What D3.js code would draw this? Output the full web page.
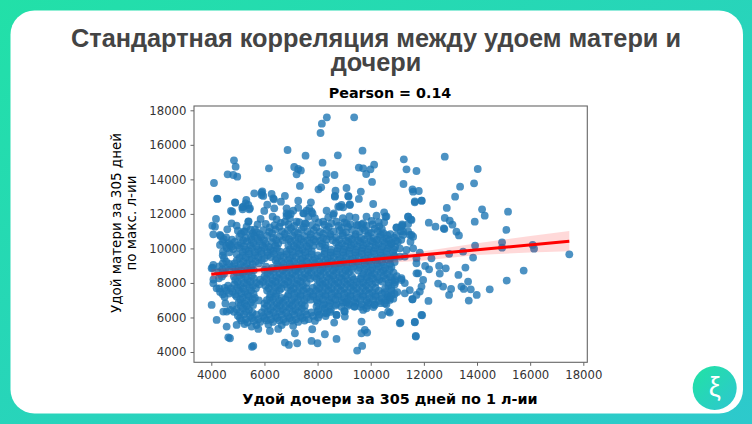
<!DOCTYPE html>
<html lang="ru">
<head>
<meta charset="utf-8">
<script src="https://cdn.jsdelivr.net/npm/d3@7/dist/d3.min.js"></script>
<style>
html,body{margin:0;padding:0;background:#fff}
svg{display:block}
</style>
</head>
<body>
<svg id="slide" width="752" height="424"></svg>
<script>
// Slide texts
const titleLines = ["Стандартная корреляция между удоем матери и", "дочери"];
const plotTitle = "Pearson = 0.14";
const xLabel = "Удой дочери за 305 дней по 1 л-ии";
const yLabelLines = ["Удой матери за 305 дней", "по макс. л-ии"];
const xTicks = [4000, 6000, 8000, 10000, 12000, 14000, 16000, 18000];
const yTicks = [4000, 6000, 8000, 10000, 12000, 14000, 16000, 18000];

// Cows as [daughter yield, mother yield], grouped by part of the cloud
const highMothers = [
 [4101,13790],[4226,12883],[4853,15103],[4916,14736],[4615,14292],[4828,14253],[4978,14157],[6169,14640],
 [6870,15700],[7547,15373],[8186,14968],[8111,16685],[8161,17226],[8349,17592],[9376,17592],[8762,15392],
 [9690,15662],[7121,14717],[7271,14600],[7371,14520],[7210,14290],[8337,14310],[8311,13960],[8637,14253],
 [7334,13620],[8035,13420],[8136,13540],[9552,14680],[9715,14640],[10128,14850],[9990,14580],[9828,14310],
 [10050,13850],[8675,13346],[9088,13500],[9627,13290],[9165,13000],[8650,13040],[7271,12767],[6770,13038],
 [6270,13153],[6332,12900],[5918,13308],[5893,13096],[5617,13192],[12786,15315],[11245,15161],[11346,14582],
 [11721,14485],[11233,13732],[11571,13424],[11809,13327],[11659,12729],[11922,12767],[13363,13578],[13175,12999],
 [13889,13771],[14027,14601],[12862,12343],[14190,12266],[14290,11899],[15167,12130],[13914,11551],[12786,11764],
 [12974,11609],[13075,11378],[12185,11494],[12436,11262],[12749,11165],[13225,10972],[15105,11069],[11408,11841],
 [11508,11687],[11408,11416],[11195,11339],[10970,11223],[11158,11262],[13320,10750],[12770,11120]
];
const upperBand = [
 [4227,12864],[4891,12671],[4740,12169],[4790,12130],[5317,12806],[5166,12381],[5392,12516],[5455,12324],
 [5292,12613],[5893,13231],[5956,13038],[6357,12845],[6620,12710],[6106,12536],[5993,12169],[6369,12324],
 [6307,11841],[6457,11687],[6833,12034],[7084,12188],[7271,12350],[7748,12671],[7459,12034],[7585,12188],
 [7773,12130],[4176,11706],[4039,11320],[4139,11262],[4076,10818],[4327,10780],[4602,11107],[4765,11455],
 [4953,11320],[5392,11551],[5329,11262],[5267,10972],[5856,11706],[5743,11397],[5642,11107],[5054,10683],
 [5517,10490],[5492,10683],[4327,10200],[4703,10200],[8651,12999],[9152,13038],[9553,12864],[9215,12555],
 [8901,12516],[8776,12420],[8613,12034],[8338,12188],[10092,12574],[9841,11841],[10217,11899],[10505,12092],
 [10555,11841],[10505,11513],[9428,11783],[9653,11397],[10969,11204],[11182,11397],[11407,11841],[11533,11648],
 [11658,12671],[11909,12767],[11595,13289],[11407,10990],[11533,10780],[11215,10780],[11130,10990],[10590,11850],
 [9213,12516],[8963,12381],[8838,12420],[7685,12323],[7810,12034],[7484,12034],[6990,12000],[6833,11880],
 [5204,12420],[5429,12266],[5179,12266],[4903,12652],[5404,11571],[6958,11745],[6770,11551],[7209,11551],
 [7647,11841],[7522,11455],[8211,11551],[8587,11937],[8712,11551],[9088,11455],[9464,11358],[9714,11455],
 [6833,12323],[6895,11937],[7900,11750],[8400,11800],[8950,11760],[9200,11850],[10030,11600],[10300,11520]
];
const rightSide = [
 [17473,9660],[15756,8714],[15117,8135],[14478,7633],[13689,6977],[13989,7305],[13764,7633],[13664,8077],
 [13413,7788],[13501,7653],[13024,7653],[12949,7305],[12724,7788],[12536,7962],[13300,8464],[13563,8888],
 [13852,9467],[12824,8849],[12573,8985],[12598,8541],[12285,9428],[12949,9679],[13476,9814],[13927,10162],
 [14942,10355],[14942,10046],[16094,10200],[16145,9988],[12172,6958],[11934,6128],[11659,5742],[11095,5665],
 [11696,4893],[11571,7055],[12197,8791],[12047,8985],[11722,8560],[11972,8174],[11910,7790],[11847,7500],
 [11722,7305],[11470,7590],[11283,7400],[11157,8170],[10907,8170],[10719,7110],[10782,7305],[10719,6283],
 [11596,10008],[11847,9757],[11283,9530],[11095,9530],[10907,9530],[10782,10300],[10970,10780],[11220,10970],
 [11470,10780],[11596,10680],[11496,10390],[11095,10008],[11345,9910],[11721,9428],[11721,9140],[11783,8560],
 [11157,8271],[11282,7990],[11570,7055],[10718,7016],[10530,6823],[10154,6727],[11658,5723],[11909,6148],
 [11119,5704],[11695,4932]
];
const lowerEdge = [
 [4013,6726],[4201,5858],[4577,5472],[4703,4796],[4640,4850],[5580,4352],[5530,4300],[6770,4545],[6920,4410],[7233,4507],
 [7772,4642],[7998,4507],[8274,5028],[8712,4758],[7798,5317],[7146,5086],[6206,5221],[6519,5337],[5768,5337],
 [5517,5472],[4953,5568],[4452,6340],[4702,6437],[4580,6340],[8624,5703],[8712,6147],[9025,6340],[9025,6051],
 [9401,6630],[9715,6437],[9840,6533],[10429,6147],[10654,6340],[9652,5761],[9652,5086],[9778,5279],[9865,5125],
 [9489,4082],[9677,4352],[4076,9042],[4013,8850],[4076,7981],[4201,7691],[8024,5994],[8338,6245],[8713,6148],
 [9002,6380],[9378,6630],[9089,6881]
];
const coreA = [
 [6050,11420],[6380,11350],[6620,11480],[6900,11390],[7120,11300],[7310,11520],[7560,11430],[7790,11350],[8040,11500],[8260,11370],
 [8520,11460],[8790,11320],[9010,11510],[9230,11400],[9520,11350],[9840,11300],[10070,11390],[10320,11280],
 [5000,11030],[5230,10990],[5480,11080],[5700,10940],[5950,11060],[6180,10960],[6420,11100],[6660,10990],[6880,11050],[7140,10940],
 [7390,11090],[7620,10980],[7860,11060],[8090,10950],[8340,11080],[8600,10990],[8830,11040],[9070,10930],[9300,11070],[9570,10980],
 [9780,11040],[10010,10920],[10260,11000],[10480,10890],[10740,10820],
 [4350,10720],[4560,10640],[5300,10610],[5620,10720],[5870,10640],[6100,10720],[6330,10610],[6570,10700],[6800,10630],[7050,10740],
 [7280,10620],[7500,10710],[7740,10640],[7980,10720],[8210,10610],[8470,10700],[8700,10630],[8950,10740],[9180,10620],[9410,10700],
 [9640,10610],[9890,10720],[10120,10590],[10350,10680],[10600,10560],[10880,10620],[11150,10500],
 [4420,10400],[4650,10310],[4880,10380],[5120,10290],[5350,10400],[5590,10310],[5810,10390],[6050,10280],[6280,10370],
 [6520,10290],[6990,10380],[7230,10270],[7470,10360],[7710,10290],[7930,10400],[8170,10270],[8690,10350],[8920,10280],[9150,10390],
 [9370,10270],[9600,10360],[9840,10280],[10070,10390],[10290,10260],[10530,10340],[10770,10250],[11020,10390],
 [4580,10010],[4820,9960],[5060,10030],[5290,9940],[5530,10020],[5760,9950],[6000,10040],[6230,9930],[6470,10010],[6960,9960],
 [7200,10030],[7430,9940],[7660,10010],[8280,10030],[8510,9930],[8760,10010],[8990,9940],[9220,10040],[9460,9930],[9690,10020],
 [9920,9950],[10160,10030],[10400,9940],[10640,10020],[10880,9930]
];
const coreB = [
 [4430,9600],[4950,9670],[5180,9590],[5420,9680],[5650,9610],[5890,9700],[6120,9600],[6360,9680],[6600,9590],
 [6840,9670],[7070,9610],[7310,9700],[7540,9590],[7780,9670],[8010,9600],[8260,9680],[8490,9590],[8730,9670],[8970,9600],
 [9200,9690],[9430,9590],[9670,9680],[9900,9610],[10140,9690],[10380,9590],[10620,9660],[10870,9580],
 [4560,9240],[4960,9310],[5200,9230],[5430,9330],[5670,9240],[5900,9320],[6420,9310],[6650,9230],
 [6890,9320],[7120,9240],[7360,9330],[7590,9230],[7830,9310],[8060,9240],[8300,9320],[8530,9230],[8770,9310],[9000,9240],
 [9240,9330],[9470,9230],[9710,9320],[9940,9240],[10180,9300],[10420,9220],[10660,9310],[10900,9210],
 [4050,8880],[4300,8960],[4540,8870],[4790,8960],[5030,8870],[5270,8950],[5500,8880],[6060,8950],[6290,8870],[6530,8960],
 [6770,8880],[7000,8950],[7240,8870],[7470,8960],[7710,8880],[7950,8960],[8180,8870],[8420,8950],[8650,8880],[8890,8960],
 [9120,8870],[9360,8950],[9590,8880],[9830,8960],[10060,8870],[10300,8950],[10540,8870],[10780,8930],
 [4260,8620],[4480,8530],[4950,8610],[5190,8530],[5420,8620],[6110,8540],[6340,8620],[6580,8530],[6820,8610],[7050,8540],
 [7290,8620],[7530,8530],[7760,8610],[8000,8540],[8230,8620],[8470,8530],[8710,8610],[8940,8540],[9180,8620],[9720,8530],
 [9900,8610],[10140,8530],[10380,8610],[10620,8530],[10860,8600],
 [4080,8200],[4290,8270],[4900,8180],[5130,8260],[5370,8180],[5600,8270],[5840,8190],[6070,8260],[6310,8180],[6540,8270],
 [6780,8190],[7010,8260],[7250,8180],[7480,8270],[7720,8250],[7960,8260],[8190,8180],[8430,8270],[8660,8190],[8900,8260],
 [9130,8180],[9370,8200],[9610,8250],[9840,8180],[10080,8260],[10320,8180],[10560,8240],[10800,8170]
];
const coreC = [
 [4630,7850],[4870,7920],[5100,7840],[5340,7930],[5570,7850],[5810,7920],[6040,7840],[6280,7930],[6510,7850],[6750,7920],
 [6980,7840],[7220,7930],[7450,7850],[7980,7840],[8180,7920],[8410,7840],[8640,7930],[8880,7850],[9110,7920],[9350,7840],
 [9580,7930],[9820,7850],[10060,7920],[10660,7840],[10900,7910],
 [4330,7480],[4560,7560],[4800,7490],[5030,7570],[5270,7490],[5500,7560],[6100,7560],[6330,7490],[6560,7570],[7000,7560],
 [7240,7490],[7470,7570],[7710,7490],[7940,7560],[8180,7490],[8410,7570],[8650,7490],[8880,7560],[9120,7480],[9350,7570],
 [9590,7490],[9820,7560],[10060,7480],[10300,7550],[10530,7470],[10780,7550],[11000,7470],
 [4500,7180],[4950,7220],[5180,7150],[5410,7230],[5640,7140],[6200,7150],[6420,7220],[6650,7140],[6880,7230],[7120,7140],
 [7360,7230],[7590,7140],[7830,7220],[8060,7130],[8300,7230],[8530,7140],[8770,7220],[9000,7130],[9240,7220],[9470,7130],
 [9710,7210],[9950,7120],[10190,7200],[10420,7110],[10650,7180],[10850,7090],
 [4530,6810],[5030,6880],[5260,6800],[5490,6870],[6000,6810],[6240,6880],[6470,6800],[6700,6870],[6940,6790],[7180,6870],
 [7410,6790],[8000,6860],[8240,6780],[8470,6860],[8710,6780],[8950,6860],[9180,6780],[9420,6860],[9660,6770],[9900,6850],
 [10130,6760],[10370,6830],[10590,6760],
 [4950,6480],[5190,6540],[5420,6450],[6000,6530],[6230,6450],[6470,6540],[6700,6460],[6940,6530],[7170,6450],[7410,6530],
 [8030,6450],[8270,6530],[8500,6450],
 [5000,6100],[5230,6180],[5460,6090],[5700,6170],[5950,6090],[6180,6170],[6420,6090],[6650,6170],[6890,6090],[7120,6170],
 [7360,6090],[7590,6170],[7830,6090],[8060,6160],[8300,6080],
 [5130,5820],[5360,5730],[5600,5810],[5840,5740],[6080,5830],[6320,5740],[6560,5820],[6800,5740],[7040,5820],[7270,5740],[7510,5820]
];
const coreUpperFill = [
 [6200,11220],[6560,11260],[7000,11180],[7480,11230],[7950,11210],[8420,11240],[8900,11190],[9150,11250],[9700,11180],[10150,11140],[10420,11120],
 [5120,10850],[5560,10880],[5830,10820],[6290,10870],[6770,10840],[7260,10890],[7740,10820],[8210,10860],[8480,10830],[8950,10880],[9430,10820],[9920,10870],[10370,10800],[10620,10770],
 [4470,10530],[4780,10510],[5200,10470],[5750,10520],[5990,10470],[6440,10480],[6690,10470],[6920,10530],[7160,10490],[7380,10540],[7620,10470],[7860,10510],[8100,10450],[8340,10520],[8570,10480],[8820,10500],[9070,10450],[9290,10520],[9530,10470],[9760,10510],[10000,10450],[10230,10500],[10460,10440],[10700,10480],[10950,10440],
 [4560,10160],[4770,10110],[5000,10170],[5240,10120],[5470,10180],[5700,10110],[5930,10160],[6170,10090],[6410,10160],[6900,10170],[7110,10130],[7350,10190],[7590,10120],[7830,10160],[8080,10120],[8300,10180],[8800,10160],[9040,10110],[9270,10190],[9490,10100],[9720,10180],[9960,10110],[10200,10170],[10440,10090],[10690,10170],[10920,10090],
 [4440,9810],[4680,9770],[5180,9800],[5410,9840],[5640,9780],[5880,9850],[6110,9790],[6340,9850],[6590,9810],[6830,9830],[7060,9800],[7300,9860],[7530,9780],[7780,9840],[8260,9850],[8500,9770],[8730,9840],[8960,9780],[9190,9860],[9420,9770],[9660,9850],[9880,9780],[10120,9840],[10360,9770],[10600,9840],[10840,9770],
 [4480,9430],[5060,9450],[5300,9480],[5530,9420],[5770,9490],[6000,9430],[6240,9500],[6480,9430],[6720,9490],[6960,9420],[7190,9490],[7430,9420],[7660,9480],[7900,9420],[8140,9500],[8380,9430],[8610,9490],[8850,9420],[9080,9480],[9310,9430],[9560,9490],[9790,9420],[10020,9480],[10260,9420],[10500,9480],[10740,9430],
 [4430,9130],[4680,9100],[4870,9130],[5100,9080],[5340,9120],[5560,9070],[5790,9130],[6480,9120],[6720,9070],[6950,9130],[7190,9070],[7420,9130],[7660,9070],[7900,9140],[8130,9070],[8370,9130],[8610,9070],[8850,9130],[9080,9070],[9310,9130],[9540,9070],[9780,9130],[10020,9070],[10250,9120],[10490,9060],[10730,9110]
];
const coreLowerFill = [
 [4420,8790],[4670,8740],[4910,8790],[5140,8720],[5370,8780],[5600,8730],[6000,8760],[6220,8720],[6450,8790],[6690,8720],[6930,8780],[7170,8710],[7400,8790],[7640,8720],[7880,8780],[8110,8710],[8350,8790],[8590,8720],[8820,8780],[9060,8710],[9290,8790],[9530,8720],[9770,8780],[10000,8710],[10240,8780],[10470,8700],[10710,8770],
 [4400,8380],[4850,8380],[5070,8430],[5300,8360],[5530,8420],[6000,8380],[6220,8420],[6460,8350],[6700,8420],[6930,8360],[7170,8420],[7410,8350],[7640,8420],[7880,8370],[8110,8430],[8350,8360],[8590,8420],[8820,8350],[9060,8420],[9300,8360],[9650,8380],[9860,8340],[10020,8420],[10260,8350],[10500,8420],[10740,8350],[10980,8400],
 [4990,8060],[5230,8000],[5470,8070],[5700,8010],[5940,8070],[6180,8000],[6420,8070],[6650,8010],[6890,8070],[7120,8000],[7360,8080],[7590,8010],[8080,8060],[8300,8000],[8540,8070],[8780,8010],[9010,8070],[9240,8000],[9480,8060],[9720,8010],[9950,8070],[10190,8020],[10430,8080],[10680,8010],[10920,8050],
 [4300,7680],[4500,7720],[4740,7690],[4980,7730],[5210,7670],[5450,7730],[5680,7690],[6160,7690],[6400,7740],[6630,7680],[6870,7730],[7100,7670],[7340,7730],[7580,7680],[7820,7720],[8060,7680],[8290,7730],[8530,7670],[8760,7730],[9000,7670],[9240,7730],[9470,7680],[9710,7730],[9940,7670],[10180,7720],[10540,7680],[10780,7720],
 [4430,7340],[4670,7390],[4900,7320],[5130,7390],[5370,7320],[5590,7360],[6220,7330],[6450,7380],[6900,7340],[7120,7390],[7360,7320],[7600,7390],[7830,7320],[8060,7390],[8300,7320],[8530,7380],[8770,7320],[9000,7380],[9240,7310],[9470,7380],[9710,7320],[9940,7380],[10180,7310],[10420,7370],[10650,7300],[10900,7360],
 [5090,7040],[5320,6980],[5560,7040],[5790,6990],[6090,7000],[6320,7050],[6560,6980],[6790,7040],[7030,6980],[7260,7040],[7500,6980],[7730,7030],[7970,6990],[8200,7040],[8440,6980],[8670,7040],[8910,6980],[9140,7040],[9380,6970],[9620,7030],[9850,6970],[10090,7020],[10320,6960],[10560,7000],
 [4800,6700],[5100,6700],[5330,6650],[5570,6710],[6100,6690],[6340,6640],[6580,6700],[6810,6640],[7050,6700],[7290,6640],[7520,6700],[7960,6640],[8200,6700],[8430,6640],[8670,6690],[8900,6620],[9140,6680],[9620,6620],[9870,6680],[10100,6600],
 [4850,6330],[5080,6300],[5310,6350],[5550,6280],[5900,6300],[6120,6340],[6350,6290],[6590,6350],[6820,6280],[7060,6340],[7290,6290],[7530,6350],[7770,6290],[8000,6340],[8240,6280],[8470,6320],
 [5080,5960],[5310,5910],[5540,5970],[5770,5900],[6010,5960],[6250,5900],[6480,5970],[6720,5900],[6950,5960],[7190,5900],[7430,5970],[7660,5900],[7900,5800],
 [5250,5620],[5700,5560],[6150,5600],[6650,5560],[7080,5520]
];
const cows = [...coreA, ...coreB, ...coreC, ...coreUpperFill, ...coreLowerFill, ...upperBand, ...highMothers, ...rightSide, ...lowerEdge];

// Regression fit and its confidence band
const fitX = [4000, 17473];
const fitY = [8500, 10410];
const bandX = [4000, 6000, 8000, 10000, 12000, 14000, 16000, 17473];
const bandUpper = [8790, 8990, 9190, 9470, 9840, 10300, 10720, 11010];
const bandLower = [8220, 8600, 8850, 9100, 9300, 9620, 9760, 9836];

const svg = d3.select("#slide");
const defs = svg.append("defs");

const bgGrad = defs.append("linearGradient").attr("id", "bgGrad")
  .attr("x1", "0%").attr("y1", "0%").attr("x2", "100%").attr("y2", "100%");
bgGrad.append("stop").attr("offset", "0%").attr("stop-color", "#22e0a8");
bgGrad.append("stop").attr("offset", "100%").attr("stop-color", "#2dc9cc");

const badgeGrad = defs.append("linearGradient").attr("id", "badgeGrad")
  .attr("x1", "10%").attr("y1", "10%").attr("x2", "90%").attr("y2", "90%");
badgeGrad.append("stop").attr("offset", "0%").attr("stop-color", "#22e0a8");
badgeGrad.append("stop").attr("offset", "100%").attr("stop-color", "#2dc9cc");

// Slide frame
svg.append("rect").attr("width", 752).attr("height", 424).attr("fill", "url(#bgGrad)");
svg.append("rect").attr("x", 10.5).attr("y", 10.5).attr("width", 732.5).attr("height", 403)
  .attr("rx", 24).attr("fill", "#fff");

// Slide heading
const heading = svg.append("text").attr("text-anchor", "middle")
  .attr("font-family", "'Liberation Sans', Arial, sans-serif").attr("font-weight", 700)
  .attr("font-size", 25.3).attr("fill", "#444444");
heading.selectAll("tspan").data(titleLines).join("tspan")
  .attr("x", 376).attr("y", (d, i) => 46.5 + i * 24.5).text(d => d);

// Plot geometry
const x = d3.scaleLinear().domain([3349, 18150]).range([194, 587.3]);
const y = d3.scaleLinear().domain([3404, 18249]).range([362.3, 106]);

const plot = svg.append("g");

plot.append("g").selectAll("circle").data(cows).join("circle")
  .attr("cx", d => x(d[0])).attr("cy", d => y(d[1])).attr("r", 3.9)
  .attr("fill", "#1f77b4").attr("fill-opacity", 0.8);

// Confidence band, then the fit line above it
const bandRows = bandX.map((v, i) => ({ x: v, hi: bandUpper[i], lo: bandLower[i] }));
plot.append("path").datum(bandRows)
  .attr("d", d3.area().x(d => x(d.x)).y0(d => y(d.lo)).y1(d => y(d.hi)))
  .attr("fill", "#ff0000").attr("fill-opacity", 0.15);
plot.append("path").datum(fitX.map((v, i) => [v, fitY[i]]))
  .attr("d", d3.line().x(d => x(d[0])).y(d => y(d[1])))
  .attr("stroke", "#ff0000").attr("stroke-width", 3).attr("fill", "none");

// Axes
const styleAxis = g => {
  g.selectAll(".domain").remove();
  g.selectAll(".tick line").attr("stroke", "#666");
  g.selectAll(".tick text").attr("font-family", "'DejaVu Sans', sans-serif")
    .attr("font-size", 11.7).attr("fill", "#333");
};
svg.append("g").attr("transform", "translate(0,362.3)")
  .call(d3.axisBottom(x).tickValues(xTicks).tickFormat(d3.format("d")).tickSize(3.5).tickPadding(5))
  .call(styleAxis);
svg.append("g").attr("transform", "translate(194,0)")
  .call(d3.axisLeft(y).tickValues(yTicks).tickFormat(d3.format("d")).tickSize(3.5).tickPadding(4))
  .call(styleAxis);

svg.append("rect").attr("x", 194).attr("y", 106).attr("width", 393.3).attr("height", 256.3)
  .attr("fill", "none").attr("stroke", "#666").attr("stroke-width", 1.1);

// Plot labels
const dejavu = "'DejaVu Sans', sans-serif";
svg.append("text").attr("x", 390).attr("y", 98).attr("text-anchor", "middle")
  .attr("font-family", dejavu).attr("font-weight", 700).attr("font-size", 14.3).attr("fill", "#000")
  .text(plotTitle);
svg.append("text").attr("x", 390).attr("y", 404).attr("text-anchor", "middle")
  .attr("font-family", dejavu).attr("font-weight", 700).attr("font-size", 14.4).attr("fill", "#000")
  .text(xLabel);
const yLabel = svg.append("text").attr("transform", "translate(116.5,223) rotate(-90)")
  .attr("text-anchor", "middle").attr("font-family", dejavu).attr("font-size", 13.5).attr("fill", "#000");
yLabel.selectAll("tspan").data(yLabelLines).join("tspan")
  .attr("x", 0).attr("y", (d, i) => 4 + i * 15).text(d => d);

// Corner badge
svg.append("circle").attr("cx", 714.7).attr("cy", 388).attr("r", 24).attr("fill", "#fff");
svg.append("circle").attr("cx", 714.7).attr("cy", 388).attr("r", 22).attr("fill", "url(#badgeGrad)");
svg.append("text").attr("x", 714.7).attr("y", 396).attr("text-anchor", "middle")
  .attr("font-family", "'Liberation Sans', sans-serif").attr("font-size", 27).attr("fill", "#fff").text("ξ");
</script>
</body>
</html>
